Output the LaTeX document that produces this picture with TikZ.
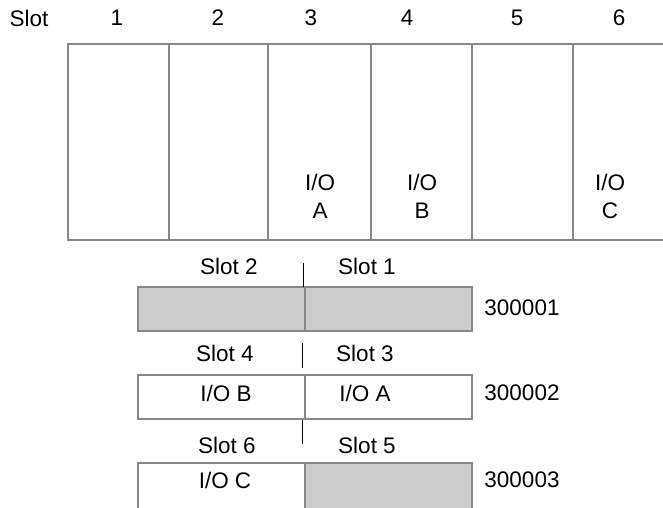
\documentclass[tikz,border=0pt]{standalone}
\usepackage{fontspec}
\setmainfont{Liberation Sans}
\definecolor{rackgray}{RGB}{136,136,136}
\definecolor{fillgray}{RGB}{204,204,204}
\tikzset{
  rackline/.style={draw=rackgray, line width=2.6pt},
  lbl/.style={inner sep=0pt, font=\fontsize{22.5}{28}\selectfont, align=center},
  tick/.style={draw=black, line width=1pt},
}
\begin{document}
\begin{tikzpicture}[x=1pt,y=-1pt]
\useasboundingbox (0,0) rectangle (663,507);
\clip (0,0) rectangle (663,507);
% slot header
\node[lbl] (slot) at (29,18) {Slot};
\node[lbl] (n1) at (117,18) {1};
\node[lbl] (n2) at (218,18) {2};
\node[lbl] (n3) at (311,18) {3};
\node[lbl] (n4) at (407,18) {4};
\node[lbl] (n5) at (517,18) {5};
\node[lbl] (n6) at (619,18) {6};
% rack
\draw[rackline] (670,44) -- (68,44) -- (68,240) -- (670,240);
\foreach \x in {169,268,371,472,573}{\draw[rackline] (\x,44) -- (\x,240);}
\node[lbl] (ioa) at (320,196) {I/O\\A};
\node[lbl] (iob) at (422,196) {I/O\\B};
\node[lbl] (ioc) at (610,196) {I/O\\C};
% words
\coordinate (w1m) at (305,287);
\draw[rackline, fill=fillgray] (138,287) rectangle (472,331);
\draw[rackline] (305,287) -- (305,331);
\draw[rackline, fill=white] (138,375) rectangle (472,419);
\draw[rackline] (305,375) -- (305,419);
\draw[rackline, fill=white] (138,463) rectangle (305,520);
\draw[rackline, fill=fillgray] (305,463) rectangle (472,520);
% ticks
\coordinate (t1) at (303,263);
\coordinate (t2a) at (302,343);
\coordinate (t2b) at (302,368);
\coordinate (t3a) at (302,420);
\coordinate (t3b) at (302,444);
\draw[tick] (t1) -- (t1 |- w1m);
\draw[tick] (t2a) -- (t2b);
\draw[tick] (t3a) -- (t3b);
% labels
\node[lbl] (s2) at (229,266) {Slot 2};
\node[lbl] (s1) at (367,266) {Slot 1};
\node[lbl] (a1) at (522,308) {300001};
\node[lbl] (s4) at (225,353) {Slot 4};
\node[lbl] (s3) at (365,353) {Slot 3};
\node[lbl] (wb) at (226,393) {I/O B};
\node[lbl] (wa) at (365,393) {I/O A};
\node[lbl] (a2) at (522,393) {300002};
\node[lbl] (s6) at (227,445) {Slot 6};
\node[lbl] (s5) at (367,445) {Slot 5};
\node[lbl] (wc) at (225,480) {I/O C};
\node[lbl] (a3) at (522,480) {300003};
\end{tikzpicture}
\end{document}
